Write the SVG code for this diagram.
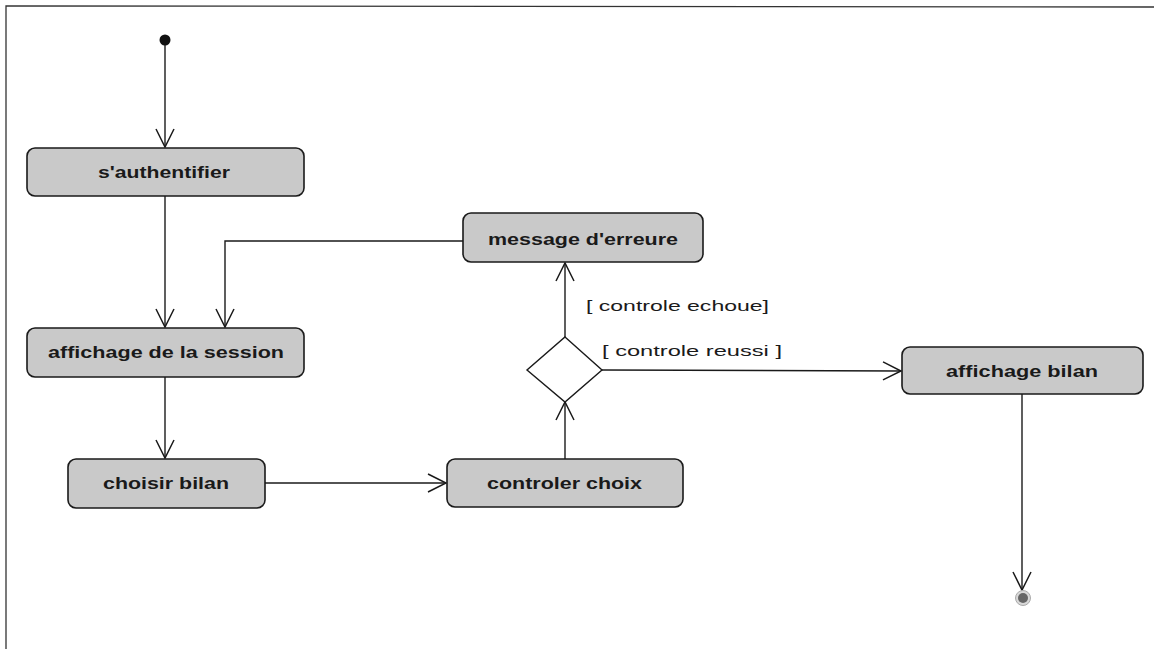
<svg xmlns="http://www.w3.org/2000/svg" width="1154" height="649" viewBox="0 0 1154 649">
<style>
.node rect{fill:#c9c9c9;stroke:#1a1a1a;stroke-width:1.6}
.lbl{font-family:"Liberation Sans",Arial,sans-serif;font-weight:bold;font-size:16px;fill:#1a1a1a}
.grd{font-family:"Liberation Sans",Arial,sans-serif;font-size:14.5px;fill:#1a1a1a}
.conn path{fill:none;stroke:#1a1a1a;stroke-width:1.4}
</style>
<defs>
<marker id="arr" viewBox="-20 -11 22 22" refX="0" refY="0" markerWidth="22" markerHeight="22" markerUnits="userSpaceOnUse" orient="auto">
<path d="M-18,-9 L0,0 L-18,9" fill="none" stroke="#1a1a1a" stroke-width="1.5"/>
</marker>
</defs>
<rect x="0" y="0" width="1154" height="649" fill="#ffffff"/>
<path d="M6,649 L6,6 L1154,7" fill="none" stroke="#333" stroke-width="1.3"/>
<g class="conn">
<path d="M165,45 L165,147" marker-end="url(#arr)"/>
<path d="M165,196 L165,327" marker-end="url(#arr)"/>
<path d="M463,241 L225,241 L225,327" marker-end="url(#arr)"/>
<path d="M165,377 L165,458" marker-end="url(#arr)"/>
<path d="M265,483 L446,483" marker-end="url(#arr)"/>
<path d="M565,459 L565,402" marker-end="url(#arr)"/>
<path d="M565,337 L565,263" marker-end="url(#arr)"/>
<path d="M602,370 L901,371" marker-end="url(#arr)"/>
<path d="M1022,394 L1022,590" marker-end="url(#arr)"/>
</g>
<g id="start"><circle cx="165" cy="40" r="5.5" fill="#111"/></g>
<g id="n-auth" class="node"><rect x="27" y="148" width="277" height="48" rx="8"/><text class="lbl" x="98" y="178" textLength="132" lengthAdjust="spacingAndGlyphs">s'authentifier</text></g>
<g id="n-session" class="node"><rect x="27" y="328" width="277" height="49" rx="8"/><text class="lbl" x="48" y="358" textLength="236" lengthAdjust="spacingAndGlyphs">affichage de la session</text></g>
<g id="n-choisir" class="node"><rect x="68" y="459" width="197" height="49" rx="8"/><text class="lbl" x="103" y="489" textLength="126" lengthAdjust="spacingAndGlyphs">choisir bilan</text></g>
<g id="n-message" class="node"><rect x="463" y="213" width="240" height="49" rx="8"/><text class="lbl" x="488" y="245" textLength="190" lengthAdjust="spacingAndGlyphs">message d'erreure</text></g>
<g id="n-controler" class="node"><rect x="447" y="459" width="236" height="48" rx="8"/><text class="lbl" x="487" y="489" textLength="155" lengthAdjust="spacingAndGlyphs">controler choix</text></g>
<g id="n-bilan" class="node"><rect x="902" y="347" width="241" height="47" rx="8"/><text class="lbl" x="946" y="377" textLength="152" lengthAdjust="spacingAndGlyphs">affichage bilan</text></g>
<g id="decision"><path d="M565,337 L602,370 L565,402 L527,370 Z" fill="#ffffff" stroke="#1a1a1a" stroke-width="1.4"/></g>
<g id="guards">
<text class="grd" x="586" y="311" textLength="183" lengthAdjust="spacingAndGlyphs">[ controle echoue]</text>
<text class="grd" x="602" y="356" textLength="180" lengthAdjust="spacingAndGlyphs">[ controle reussi ]</text>
</g>
<g id="end"><circle cx="1023" cy="598" r="7.5" fill="#d8d8d8" stroke="#aaa" stroke-width="1"/><circle cx="1023" cy="598" r="5" fill="#666"/></g>
</svg>
